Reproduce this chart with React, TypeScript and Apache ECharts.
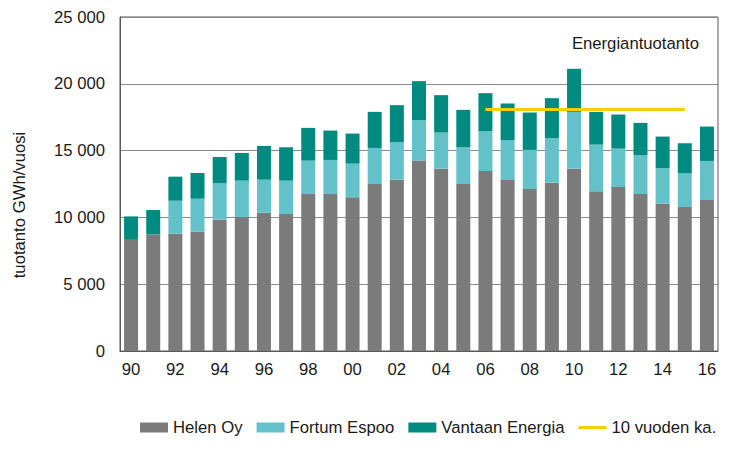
import React, { useEffect, useRef } from "react";
import * as echarts from "echarts";

const years = ["90","91","92","93","94","95","96","97","98","99","00","01","02","03","04","05","06","07","08","09","10","11","12","13","14","15","16"];
const helenOy = [8375,8725,8800,8950,9850,10025,10350,10250,11750,11750,11500,12500,12825,14250,13650,12500,13475,12800,12125,12600,13650,11950,12275,11750,11025,10775,11300];
const fortumEspoo = [0,0,2450,2450,2700,2725,2475,2500,2500,2550,2525,2700,2800,3025,2700,2750,2975,2975,2925,3325,4250,3500,2875,2900,2675,2525,2925];
const vantaanEnergia = [1700,1825,1800,1925,1975,2075,2525,2500,2450,2200,2250,2700,2775,2925,2800,2800,2850,2750,2800,3000,3225,2450,2550,2425,2350,2250,2575];
const tenYearAvg = [null,null,null,null,null,null,null,null,null,null,null,null,null,null,null,null,18075,18075,18075,18075,18075,18075,18075,18075,18075,18075,null];
const yTicks = { min: 0, max: 25000, interval: 5000 };

const FONT = "'Liberation Sans', Arial, sans-serif";
const FS = 16.7;

function fmt(v: number): string {
  const s = String(Math.round(v));
  return s.replace(/\B(?=(\d{3})+(?!\d))/g, " ");
}

export default function App() {
  const ref = useRef<HTMLDivElement>(null);
  useEffect(() => {
    if (!ref.current) return;
    const chart = echarts.init(ref.current, undefined, { renderer: "svg" });
    chart.setOption({
      animation: false,
      backgroundColor: "#ffffff",
      textStyle: { fontFamily: FONT },
      grid: {
        left: 120, right: 23, top: 17, bottom: 125,
        show: true, borderColor: "#595959", borderWidth: 1, backgroundColor: "transparent",
      },
      legend: {
        left: 135, top: 414, itemWidth: 28, itemHeight: 10, itemGap: 14,
        textStyle: { fontFamily: FONT, fontSize: FS, color: "#1a1a1a" },
        data: [
          { name: "Helen Oy", icon: "rect" },
          { name: "Fortum Espoo", icon: "rect" },
          { name: "Vantaan Energia", icon: "rect" },
          { name: "10 vuoden ka.", icon: "path://M0,0 M0,3.5 L28,3.5 L28,6.5 L0,6.5 Z M28,10", itemStyle: { color: "#f5d000" } },
        ],
      },
      graphic: [
        {
          type: "text", x: 699, y: 43,
          style: { text: "Energiantuotanto", fontFamily: FONT, fontSize: FS, fill: "#1a1a1a", align: "right", verticalAlign: "middle" },
        },
        {
          type: "text", x: 19, y: 205, rotation: Math.PI / 2,
          style: { text: "tuotanto GWh/vuosi", fontFamily: FONT, fontSize: FS, fill: "#1a1a1a", align: "center", verticalAlign: "middle" },
        },
      ],
      xAxis: {
        type: "category",
        data: years,
        axisLine: { show: true, lineStyle: { color: "#595959", width: 1 } },
        axisTick: { show: false },
        axisLabel: { interval: 1, margin: 10, fontFamily: FONT, fontSize: FS, color: "#1a1a1a" },
      },
      yAxis: {
        type: "value",
        min: yTicks.min, max: yTicks.max, interval: yTicks.interval,
        axisLine: { show: true, lineStyle: { color: "#595959", width: 1 } },
        axisTick: { show: false },
        axisLabel: { margin: 15, fontFamily: FONT, fontSize: FS, color: "#1a1a1a", formatter: (v: number) => fmt(v) },
        splitLine: { show: true, lineStyle: { color: "#8a8a8a", width: 1 } },
      },
      series: [
        { name: "Helen Oy", type: "bar", stack: "t", data: helenOy, barWidth: 14, itemStyle: { color: "#7b7b7b" } },
        { name: "Fortum Espoo", type: "bar", stack: "t", data: fortumEspoo, barWidth: 14, itemStyle: { color: "#63c1c9" } },
        { name: "Vantaan Energia", type: "bar", stack: "t", data: vantaanEnergia, barWidth: 14, itemStyle: { color: "#008a80" } },
        {
          name: "10 vuoden ka.", type: "line", data: tenYearAvg, symbol: "none", connectNulls: false,
          lineStyle: { color: "#f5d000", width: 3 }, itemStyle: { color: "#f5d000" }, z: 5,
        },
      ],
    });
    return () => chart.dispose();
  }, []);
  return <div ref={ref} style={{ position: "absolute", left: 0, top: 0, width: 741, height: 476 }} />;
}
